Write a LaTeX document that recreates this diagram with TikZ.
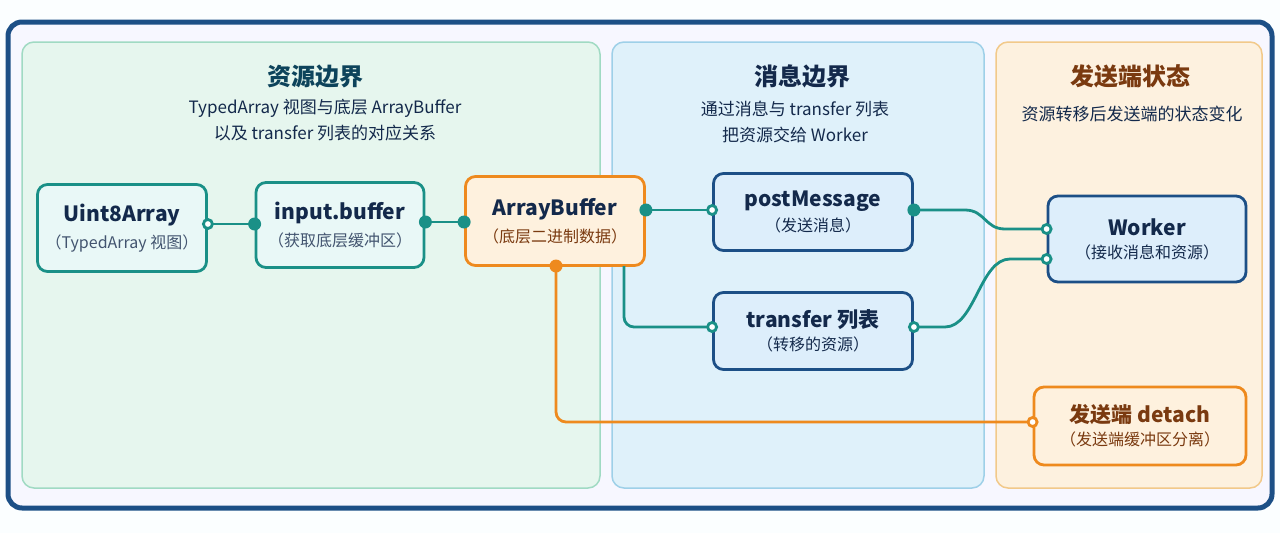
\documentclass[tikz,border=0pt]{standalone}
\usepackage{fontspec}
\setmainfont{Noto Sans CJK SC}
\newcommand\mnf{\fontsize{21}{25}\selectfont\bfseries\color{navy}}
\newcommand\smf{\fontsize{16}{20}\selectfont\mdseries}
\begin{document}
\begin{tikzpicture}[x=1pt,y=-1pt,
  panel/.style={rounded corners=12pt,line width=1.5pt},
  box/.style={rounded corners=10pt,line width=2.8pt,align=center,inner sep=0pt},
  tealb/.style={box,draw=teal0,fill=tealf},
  blueb/.style={box,draw=blue0,fill=bluef},
  orgb/.style={box,draw=org0,fill=orgf},
  tl/.style={line width=2.8pt,draw=teal0},
  ol/.style={line width=2.8pt,draw=org0},
  dot/.style={circle,fill=#1,inner sep=0pt,minimum size=13pt},
  odot/.style={circle,draw=#1,fill=white,line width=2.8pt,inner sep=0pt,minimum size=9pt},
  ttl/.style={font=\fontsize{24}{28}\selectfont\bfseries},
  sub/.style={font=\fontsize{17}{26}\selectfont,align=center,text=navy},
]
\definecolor{teal0}{HTML}{1A9087}\definecolor{tealf}{HTML}{E9F8F7}
\definecolor{blue0}{HTML}{1C4F86}\definecolor{bluef}{HTML}{DDEEFB}
\definecolor{org0}{HTML}{EE8A1E}\definecolor{orgf}{HTML}{FEF1DE}
\definecolor{navy}{HTML}{13294B}\definecolor{brown0}{HTML}{7A3A10}
\useasboundingbox (0,0) rectangle (1280,533);
\fill[white!60!cyan!4] (0,0) rectangle (1280,533);
\draw[rounded corners=14pt,line width=5pt,draw=blue0,fill=white!97!blue] (8,22) rectangle (1272,508);
\draw[panel,fill={rgb,255:red,230;green,246;blue,238},draw={rgb,255:red,160;green,218;blue,195}] (22,42) rectangle (600,488);
\draw[panel,fill={rgb,255:red,223;green,241;blue,250},draw={rgb,255:red,158;green,208;blue,232}] (612,42) rectangle (984,488);
\draw[panel,fill={rgb,255:red,253;green,241;blue,223},draw={rgb,255:red,242;green,201;blue,138}] (996,42) rectangle (1262,488);
\node[ttl,text=navy!70!teal] (t1) at (315,76) {资源边界};
\node[sub] (s1) at (325,120) {TypedArray 视图与底层 ArrayBuffer\\以及 transfer 列表的对应关系};
\node[ttl,text=navy] (t2) at (802,76) {消息边界};
\node[sub] (s2) at (795,122) {通过消息与 transfer 列表\\把资源交给 Worker};
\node[ttl,text=brown0] (t3) at (1130,76) {发送端状态};
\node[sub] (s3) at (1132,114) {资源转移后发送端的状态变化};

\node[tealb,minimum width=169pt,minimum height=87pt] (u8) at (122,228) {\mnf Uint8Array\\[8pt]\smf\color{navy!80}（TypedArray 视图）};
\node[tealb,minimum width=168pt,minimum height=85pt] (ib) at (340,225) {\mnf input.buffer\\[8pt]\smf\color{navy!80}（获取底层缓冲区）};
\node[orgb,minimum width=179pt,minimum height=89pt] (ab) at (555,221) {\mnf ArrayBuffer\\[8pt]\smf\color{brown0}（底层二进制数据）};
\node[blueb,minimum width=199pt,minimum height=77pt] (pm) at (813,212) {\mnf postMessage\\[6pt]\smf\color{navy}（发送消息）};
\node[blueb,minimum width=199pt,minimum height=77pt] (tr) at (813,331) {\mnf transfer 列表\\[6pt]\smf\color{navy}（转移的资源）};
\node[blueb,minimum width=198pt,minimum height=86pt] (wk) at (1147,239) {\mnf Worker\\[8pt]\smf\color{navy}（接收消息和资源）};
\node[orgb,minimum width=212pt,minimum height=78pt] (dt) at (1140,426) {\mnf\color{brown0} 发送端 detach\\[6pt]\smf\color{brown0}（发送端缓冲区分离）};

\coordinate (a1) at (u8.east|-0,224); \coordinate (a2) at (ib.west|-0,224);
\draw[tl] (a1) -- (a2);
\node[odot=teal0] at (a1) {}; \node[dot=teal0] at (a2) {};
\coordinate (b1) at (ib.east|-0,222); \coordinate (b2) at (ab.west|-0,222);
\draw[tl] (b1) -- (b2);
\node[dot=teal0] at (b1) {}; \node[dot=teal0] at (b2) {};
\coordinate (c1) at (ab.east|-0,210); \coordinate (c2) at (pm.west|-0,210);
\draw[tl] (c1) -- (c2);
\node[dot=teal0] at (c1) {}; \node[odot=teal0] at (c2) {};
\coordinate (d1) at (624,266); \coordinate (d2) at (tr.west|-0,327);
\draw[tl,rounded corners=10pt] (d1) -- (624,327) -- (d2);
\node[odot=teal0] at (d2) {};
\coordinate (e1) at (pm.east|-0,210); \coordinate (e2) at (wk.west|-0,229);
\draw[tl] (e1) -- (965,210) .. controls (985,210) and (985,229) .. (1005,229) -- (e2);
\node[dot=teal0] at (e1) {}; \node[odot=teal0] at (e2) {};
\coordinate (f1) at (tr.east|-0,327); \coordinate (f2) at (wk.west|-0,259);
\draw[tl] (f1) -- (945,327) .. controls (975,327) and (980,259) .. (1010,259) -- (f2);
\node[odot=teal0] at (f1) {}; \node[odot=teal0] at (f2) {};
\coordinate (g1) at (556,266); \coordinate (g2) at (dt.west|-0,422);
\draw[ol,rounded corners=10pt] (g1) -- (556,422) -- (g2);
\node[dot=org0] at (g1) {}; \node[odot=org0] at (g2) {};
\end{tikzpicture}
\end{document}
